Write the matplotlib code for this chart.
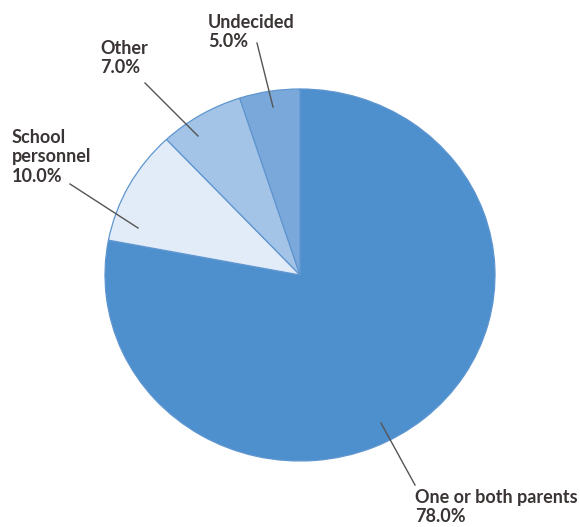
import matplotlib.pyplot as plt
from matplotlib.lines import Line2D

# Data
categories = ['One or both parents', 'School personnel', 'Other', 'Undecided']
shares = [78.0, 10.0, 7.0, 5.0]
colors = ['#4d90cd', '#e2ecf8', '#a3c3e7', '#7ba8da']

W, H = 580, 527

def px(x, y):
    # pixel position (from top-left) -> figure fraction
    return x / W, 1 - y / H

fig = plt.figure(figsize=(W / 100, H / 100), dpi=100)

# pie is a bit wider than tall in the reference
cx, cy, rx, ry = 300, 275, 195, 186
ax = fig.add_axes([(cx - rx) / W, (H - cy - ry) / H, 2 * rx / W, 2 * ry / H])
ax.pie(shares, colors=colors, startangle=90, counterclock=False,
       wedgeprops=dict(edgecolor='#5f96d0', linewidth=0.9))
ax.set_aspect('auto')
ax.set_xlim(-1, 1)
ax.set_ylim(-1, 1)
ax.axis('off')

# labels: text top-left and leader line endpoints (pixels)
label_pos = {
    'One or both parents': ((415, 489), (415, 485), (381, 423)),
    'School personnel': ((12, 129), (70, 184), (138, 228)),
    'Other': ((100, 40), (145, 83), (198, 136)),
    'Undecided': ((208, 14), (257, 43), (273, 107)),
}
label_text = {
    'One or both parents': 'One or both parents',
    'School personnel': 'School\npersonnel',
    'Other': 'Other',
    'Undecided': 'Undecided',
}

for cat, val in zip(categories, shares):
    (tx, ty), p0, p1 = label_pos[cat]
    fx, fy = px(tx, ty)
    fig.text(fx, fy, f'{label_text[cat]}\n{val:.1f}%', ha='left', va='top',
             fontsize=13, fontweight='bold', family=['Lato', 'DejaVu Sans'],
             color='#3a3434', linespacing=1.17)
    a, b = px(*p0), px(*p1)
    fig.add_artist(Line2D([a[0], b[0]], [a[1], b[1]], transform=fig.transFigure,
                          color='#555555', linewidth=1.0))

fig.savefig('out.png', dpi=100)
